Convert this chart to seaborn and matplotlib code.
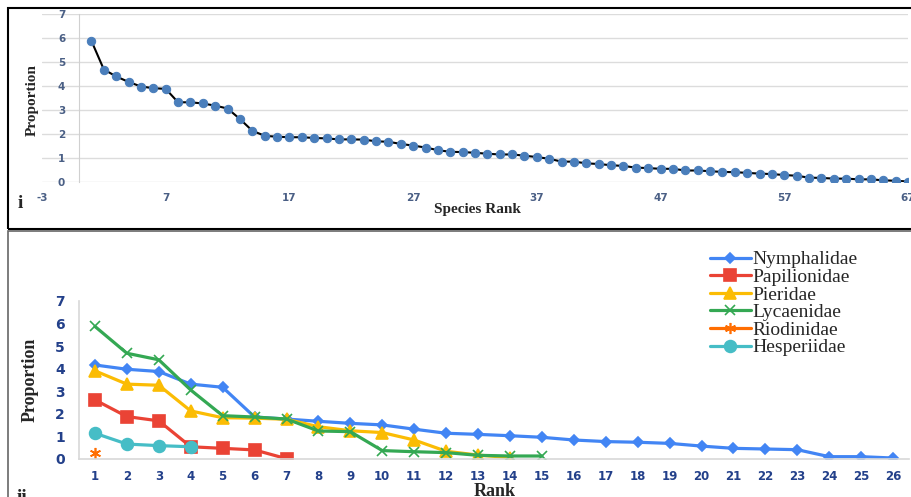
import matplotlib
matplotlib.use("Agg")
import matplotlib.pyplot as plt
import pandas as pd
import seaborn as sns
from matplotlib.patches import Rectangle
from matplotlib.lines import Line2D

# panel i: all species ranked by proportion
species_rank = list(range(1, 68))
species_prop = [5.87, 4.68, 4.39, 4.16, 3.97, 3.90, 3.87, 3.31, 3.31, 3.26,
                3.17, 3.05, 2.61, 2.12, 1.91, 1.87, 1.85, 1.85, 1.82, 1.80,
                1.76, 1.76, 1.75, 1.68, 1.66, 1.57, 1.50, 1.42, 1.31, 1.24,
                1.23, 1.20, 1.16, 1.13, 1.13, 1.08, 1.02, 0.95, 0.83, 0.83,
                0.76, 0.73, 0.68, 0.65, 0.58, 0.56, 0.53, 0.53, 0.46, 0.46,
                0.43, 0.40, 0.39, 0.36, 0.33, 0.31, 0.27, 0.24, 0.16, 0.15,
                0.12, 0.12, 0.09, 0.09, 0.05, 0.03, 0.00]
top_xticks = [-3, 7, 17, 27, 37, 47, 57, 67]

# panel ii: rank curves per family
families = ["Nymphalidae", "Papilionidae", "Pieridae", "Lycaenidae", "Riodinidae", "Hesperiidae"]
nymphalidae = [4.16, 3.97, 3.87, 3.31, 3.17, 1.85, 1.76, 1.66, 1.57, 1.50, 1.31, 1.13, 1.08,
               1.02, 0.95, 0.83, 0.76, 0.73, 0.68, 0.56, 0.46, 0.43, 0.40, 0.09, 0.09, 0.03]
papilionidae = [2.61, 1.87, 1.68, 0.53, 0.46, 0.39, 0.00]
pieridae = [3.90, 3.31, 3.26, 2.12, 1.82, 1.80, 1.75, 1.42, 1.24, 1.16, 0.83, 0.33, 0.16, 0.05]
lycaenidae = [5.87, 4.68, 4.39, 3.05, 1.91, 1.85, 1.76, 1.23, 1.20, 0.36, 0.31, 0.27, 0.15, 0.12, 0.12]
riodinidae = [0.24]
hesperiidae = [1.13, 0.65, 0.58, 0.53]
family_values = [nymphalidae, papilionidae, pieridae, lycaenidae, riodinidae, hesperiidae]

colors = ["#4285F4", "#EA4335", "#FBBC04", "#34A853", "#FF6D01", "#46BDC6"]
markers = ["D", "s", "^", "x", (6, 2, 0), "o"]
msizes = [5, 9, 8.5, 7, 8, 8.5]

sns.set_style("white")
plt.rcParams["font.family"] = ["DejaVu Sans"]
plt.rcParams["axes.unicode_minus"] = False
serif = "Liberation Serif"

W, H = 911, 497
fig = plt.figure(figsize=(W / 100, H / 100), dpi=100)


def fx(px):
    return px / W


def fy(py):
    return 1 - py / H


# panel frames
fig.patches.append(Rectangle((fx(8), fy(229)), fx(920 - 8), fy(8) - fy(229),
                             transform=fig.transFigure, fill=False, ec="black", lw=1.5))
fig.patches.append(Rectangle((fx(8), fy(520)), fx(920 - 8), fy(231) - fy(520),
                             transform=fig.transFigure, fill=False, ec="#666666", lw=1.2))

# ---- top panel ----
ax1 = fig.add_axes([fx(42), fy(181.5), fx(908) - fx(42), fy(14) - fy(181.5)])
top_df = pd.DataFrame({"rank": species_rank, "prop": species_prop})
sns.lineplot(data=top_df, x="rank", y="prop", ax=ax1, color="black", lw=1.5,
             marker="o", markersize=6, markerfacecolor="#4a7ebb", markeredgecolor="#4a7ebb")
ax1.set_xlim(-3, 67)
ax1.set_ylim(0, 7)
ax1.set_xticks(top_xticks)
ax1.set_yticks(range(0, 8))
ax1.grid(axis="y", color="#dcdcdc", lw=1)
ax1.set_axisbelow(True)
for s in ["top", "right", "bottom"]:
    ax1.spines[s].set_visible(False)
ax1.spines["left"].set_position(("data", 0))
ax1.spines["left"].set_color("#d0d0d0")
ax1.tick_params(length=0, labelsize=7.5, labelcolor="#4a5f85")
ax1.tick_params(axis="x", pad=8)
ax1.tick_params(axis="y", pad=10)
for lab in ax1.get_xticklabels() + ax1.get_yticklabels():
    lab.set_fontweight("bold")
ax1.set_xlabel("")
ax1.set_ylabel("")
fig.text(fx(477), fy(210), "Species Rank", family=serif, fontweight="bold",
         fontsize=11, ha="center", va="center")
fig.text(fx(32), fy(100), "Proportion", family=serif, fontweight="bold",
         fontsize=11, ha="center", va="center", rotation=90)
fig.text(fx(20), fy(204), "i", family=serif, fontweight="bold", fontsize=14,
         ha="center", va="center")

# ---- bottom panel ----
ax2 = fig.add_axes([fx(79), fy(458.7), fx(909) - fx(79), fy(301) - fy(458.7)])
handles = []
for name, vals, c, m, ms in zip(families, family_values, colors, markers, msizes):
    d = pd.DataFrame({"rank": list(range(1, len(vals) + 1)), "prop": vals})
    sns.lineplot(data=d, x="rank", y="prop", ax=ax2, color=c, lw=2.3, marker=m,
                 markersize=ms, markerfacecolor=c, markeredgecolor=c, markeredgewidth=1.2)
    handles.append(Line2D([0], [0], color=c, lw=2.3, marker=m, markersize=ms,
                          markerfacecolor=c, markeredgecolor=c, markeredgewidth=1.2))
ax2.set_xlim(0.5, 26.5)
ax2.set_ylim(0, 7)
ax2.set_xticks(range(1, 27))
ax2.set_yticks(range(0, 8))
for s in ["top", "right"]:
    ax2.spines[s].set_visible(False)
ax2.spines["left"].set_color("#d8d8d8")
ax2.spines["bottom"].set_color("#d8d8d8")
ax2.spines["left"].set_linewidth(1.2)
ax2.spines["bottom"].set_linewidth(1.2)
ax2.tick_params(length=0, labelcolor="#23408a")
ax2.tick_params(axis="x", pad=8, labelsize=8.5)
ax2.tick_params(axis="y", pad=10, labelsize=10)
for lab in ax2.get_xticklabels() + ax2.get_yticklabels():
    lab.set_fontweight("bold")
ax2.set_xlabel("")
ax2.set_ylabel("")
ax2.legend(handles, families, loc="upper left", bbox_to_anchor=(fx(702), fy(243)),
           bbox_transform=fig.transFigure, frameon=False, handlelength=2.1,
           handletextpad=0.1, labelspacing=0.0, borderaxespad=0,
           prop={"family": serif, "size": 14})
fig.text(fx(30), fy(380), "Proportion", family=serif, fontweight="bold",
         fontsize=13, ha="center", va="center", rotation=90)
fig.text(fx(495), fy(491), "Rank", family=serif, fontweight="bold",
         fontsize=13, ha="center", va="center")
fig.text(fx(22), fy(498), "ii", family=serif, fontweight="bold", fontsize=14,
         ha="center", va="center")

fig.savefig("out.png", dpi=100)
